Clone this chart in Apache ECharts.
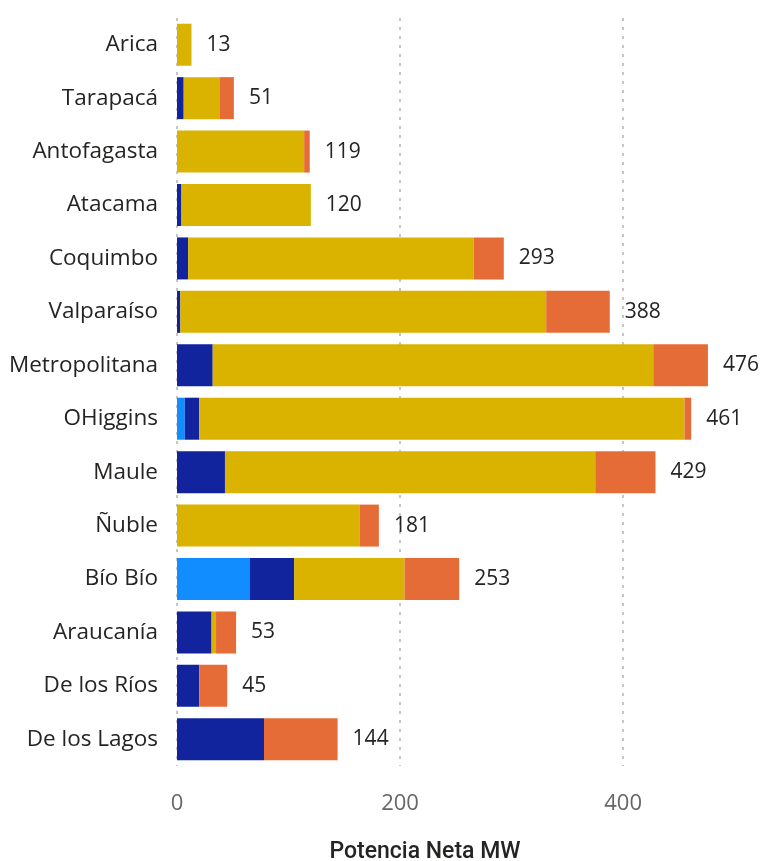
<!DOCTYPE html>
<html lang="es">
<head>
    <meta charset="UTF-8">
    <title>Potencia Neta MW por región</title>
    <script src="https://cdn.jsdelivr.net/npm/echarts@6/dist/echarts.min.js"></script>
    <style>
        html, body { margin: 0; padding: 0; background: #fff; }
        #chart { width: 761px; height: 861px; }
    </style>
</head>
<body>
<div id="chart"></div>
<script>
    var regiones = ["Arica", "Tarapacá", "Antofagasta", "Atacama", "Coquimbo", "Valparaíso",
        "Metropolitana", "OHiggins", "Maule", "Ñuble", "Bío Bío", "Araucanía", "De los Ríos", "De los Lagos"];

    // segmentos por tecnología (MW)
    var serieCeleste = [0, 0, 0, 0, 0, 0, 0, 7, 0, 0, 65, 0, 0, 0];
    var serieAzul = [0, 6, 0, 4, 10, 3, 32, 13, 43, 0, 40, 31, 20, 78];
    var serieAmarilla = [13, 32, 114, 116, 256, 328, 395, 435, 332, 164, 99, 4, 0, 0];
    var serieNaranja = [0, 13, 5, 0, 27, 57, 49, 6, 54, 17, 49, 18, 25, 66];

    var totales = regiones.map(function (r, i) {
        return serieCeleste[i] + serieAzul[i] + serieAmarilla[i] + serieNaranja[i];
    });

    var chart = echarts.init(document.getElementById("chart"));

    function capa(nombre, datos, color) {
        return {
            name: nombre,
            type: "bar",
            stack: "total",
            data: datos,
            barWidth: 42,
            itemStyle: {color: color},
            emphasis: {disabled: true}
        };
    }

    chart.setOption({
        animation: false,
        grid: {left: 177, right: 4, top: 18, bottom: 95, outerBoundsMode: "none"},
        xAxis: {
            type: "value",
            min: 0,
            max: 520,
            interval: 200,
            name: "Potencia Neta MW",
            nameLocation: "middle",
            nameGap: 75,
            nameTextStyle: {
                fontFamily: "Roboto",
                fontSize: 23,
                fontWeight: 500,
                color: "#252423",
                padding: [0, 84, 0, 0]
            },
            axisLine: {show: false},
            axisTick: {show: false},
            axisLabel: {
                margin: 27,
                fontFamily: "Open Sans",
                fontSize: 22,
                color: "#666666",
                showMaxLabel: false
            },
            splitLine: {
                show: true,
                showMaxLine: false,
                lineStyle: {color: "#C8C6C4", type: [3, 6], width: 2}
            }
        },
        yAxis: {
            type: "category",
            data: regiones,
            inverse: true,
            axisLine: {show: false},
            axisTick: {show: false},
            axisLabel: {
                margin: 19,
                fontFamily: "Open Sans",
                fontSize: 22.5,
                color: "#252423"
            }
        },
        series: [
            capa("Celeste", serieCeleste, "#118DFF"),
            capa("Azul", serieAzul, "#12239E"),
            capa("Amarilla", serieAmarilla, "#D9B300"),
            capa("Naranja", serieNaranja, "#E66C37"),
            {
                name: "Total",
                type: "bar",
                data: totales,
                barWidth: 42,
                barGap: "-100%",
                z: 1,
                itemStyle: {color: "rgba(0,0,0,0)"},
                emphasis: {disabled: true},
                label: {
                    show: true,
                    position: "right",
                    distance: 15,
                    fontFamily: "Open Sans",
                    fontSize: 21,
                    color: "#252423"
                }
            }
        ]
    });
</script>
</body>
</html>
